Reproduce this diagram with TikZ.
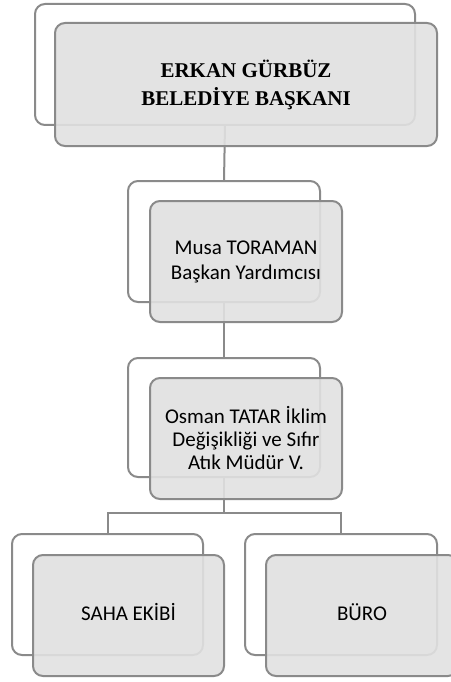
\documentclass[tikz,border=0pt]{standalone}
\usepackage{fontspec}
\newfontfamily\serifbold{Liberation Serif}
\newfontfamily\calib{Carlito}
\definecolor{edge}{RGB}{138,138,138}
\definecolor{boxfill}{RGB}{225,225,225}
\tikzset{
  backbox/.style={draw=edge, line width=2pt, rounded corners=10pt, fill=white, inner sep=0pt, outer sep=0pt},
  frontbox/.style={draw=edge, line width=2pt, rounded corners=10pt, fill=boxfill, fill opacity=0.9, text opacity=1, inner sep=0pt, outer sep=0pt, align=center},
  link/.style={draw=edge, line width=2pt},
  calfont/.style={font=\calib\fontsize{21}{25}\selectfont},
}
\begin{document}
\begin{tikzpicture}[x=1pt,y=-1pt]
\useasboundingbox (0,0) rectangle (450,682);
% back boxes
\node[backbox, minimum width=380pt, minimum height=121pt] (b1) at (225,64.5) {};
\node[backbox, minimum width=192pt, minimum height=121pt] (b2) at (224,241.5) {};
\node[backbox, minimum width=192pt, minimum height=119pt] (b3) at (224,417.5) {};
\node[backbox, minimum width=191pt, minimum height=121pt] (b4) at (107.5,594.5) {};
\node[backbox, minimum width=192pt, minimum height=121pt] (b5) at (341,594.5) {};
% connectors
\draw[link] (b1.south) -- (b2.north);
\draw[link] (b2.south) -- (b3.north);
\draw[link] (b3.south) -- ++(0,36) coordinate (split) -| (b4.north);
\draw[link] (split) -| (b5.north);
% front boxes
\node[frontbox, minimum width=382pt, minimum height=123pt, font=\serifbold\bfseries\fontsize{21}{28}\selectfont] (f1) at (246,84.5) {ERKAN GÜRBÜZ\\BELEDİYE BAŞKANI};
\node[frontbox, calfont, minimum width=192pt, minimum height=121pt] (f2) at (246,261.5) {Musa TORAMAN\\Başkan Yardımcısı};
\node[frontbox, font=\calib\fontsize{21}{23}\selectfont, minimum width=192pt, minimum height=121pt] (f3) at (246,438.5) {Osman TATAR İklim\\Değişikliği ve Sıfır\\Atık Müdür V.};
\node[frontbox, calfont, minimum width=191pt, minimum height=121pt] (f4) at (128.5,615.5) {\strut SAHA EKİBİ};
\node[frontbox, calfont, minimum width=192pt, minimum height=121pt] (f5) at (362,615.5) {\strut BÜRO};
\end{tikzpicture}
\end{document}
